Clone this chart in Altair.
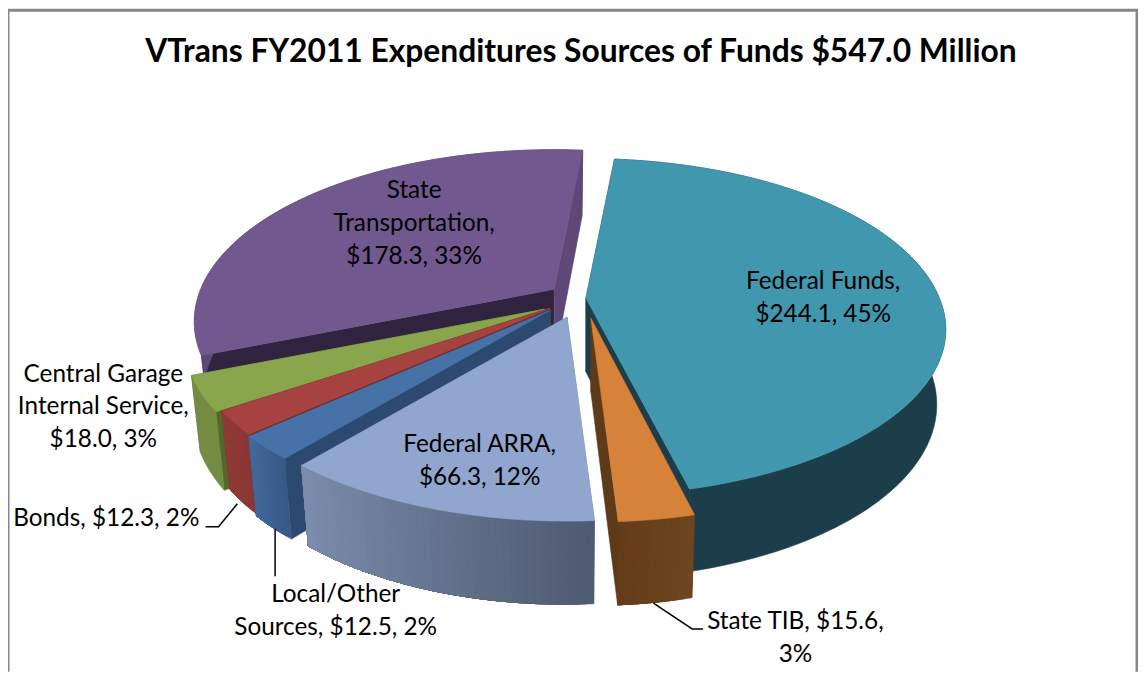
import math
import altair as alt
import pandas as pd

# ---- data ----
sources = ["Federal Funds", "State TIB", "Federal ARRA", "Local/Other Sources",
           "Bonds", "Central Garage Internal Service", "State Transportation"]
amounts = [244.1, 15.6, 66.3, 12.5, 12.3, 18.0, 178.3]
pct_text = ["45%", "3%", "12%", "2%", "2%", "3%", "33%"]
title_text = "VTrans FY2011 Expenditures Sources of Funds $547.0 Million"

label_lines = [
    ["Federal Funds,", "$244.1, 45%"],
    ["State TIB, $15.6,", "3%"],
    ["Federal ARRA,", "$66.3, 12%"],
    ["Local/Other", "Sources, $12.5, 2%"],
    ["Bonds, $12.3, 2%"],
    ["Central Garage", "Internal Service,", "$18.0, 3%"],
    ["State", "Transportation,", "$178.3, 33%"],
]

# ---- style: colours, explosion apexes, label anchors (image pixels) ----
top_col = ["#4097AE", "#D7823B", "#91A6CE", "#4672A7", "#A64340", "#8AA64D", "#71588F"]
wall_a = ["#1C3E4A", "#6E451F", "#4E5A70", "#375884", "#8A3735", "#748C41", "#5D4877"]
wall_b = ["#1C3E4A", "#623C1A", "#7C8DAD", "#42699B", "#8F3A37", "#748C41", "#5D4877"]
cut_start = ["#1C3E4A", "#5E3B18", "#6E7D99", "#2C4A70", "#6E2A28", "#52692B", "#30233F"]
cut_end = ["#1C3E4A", "#5E3B18", "#6E7D99", "#2C4A70", "#6E2A28", "#52692B", "#5D4877"]
apex = [(590, 298), (595, 318), (571, 317), (554, 310), (554, 308), (548, 309), (558, 289)]
front_sq = [0.97, 1.0, 1.0, 1.0, 1.0, 1.0, 1.0]
label_xy = [(829, 282), (801, 624), (483, 446), (338, 597), (107, 520), (104, 375), (417, 190)]
LINE_H = 33
FONT = "Lato"
FS = 24.5

ROT = 5.5
A, B, K = 356.0, 167.0, 0.187
H, SHRINK = 74.0, 0.975


def proj(theta, sq=1.0):
    t = math.radians(theta)
    X, Y = math.sin(t), math.cos(t)
    w = 1 + K * Y
    sy = -B * Y / w
    return A * X / w, sy * sq if sy > 0 else sy, w


def mix(c1, c2, f):
    a = [int(c1[i:i + 2], 16) for i in (1, 3, 5)]
    b = [int(c2[i:i + 2], 16) for i in (1, 3, 5)]
    return "#%02x%02x%02x" % tuple(round(p + (q - p) * f) for p, q in zip(a, b))


features = []


def add(poly, col):
    ring = [[round(x, 2), round(y, 2)] for x, y in poly]
    ring.append(ring[0])
    features.append({"type": "Feature",
                     "geometry": {"type": "Polygon", "coordinates": [ring]},
                     "properties": {"color": col}})


def top_pt(i, th):
    sx, sy, _ = proj(th, front_sq[i])
    return apex[i][0] + sx, apex[i][1] + sy


def bot_pt(i, th):
    sx, sy, w = proj(th, front_sq[i])
    return apex[i][0] + SHRINK * sx, apex[i][1] + sy + H / w ** 0.6


total = sum(amounts)
bounds = [ROT]
for v in amounts:
    bounds.append(bounds[-1] + 360 * v / total)

for i in [6, 0, 5, 4, 3, 1, 2]:
    a0, a1 = bounds[i], bounds[i + 1]
    ax, ay = apex[i]
    n = max(2, int((a1 - a0) / 1.0))
    ths = [a0 + (a1 - a0) * k / n for k in range(n + 1)]
    add([(ax, ay), top_pt(i, a0), bot_pt(i, a0), (ax, ay + H)], cut_start[i])
    add([(ax, ay), top_pt(i, a1), bot_pt(i, a1), (ax, ay + H)], cut_end[i])
    # each wall band runs to the far end of the slice, so neighbours overlap without seams
    m = 1 if wall_a[i] == wall_b[i] else n
    for k in range(m):
        c = mix(wall_a[i], wall_b[i], (k + 0.5) / m)
        rest = ths[k:]
        add([top_pt(i, t) for t in rest] + [bot_pt(i, t) for t in reversed(rest)], c)
    add([(ax, ay)] + [top_pt(i, t) for t in ths], top_col[i])

pie_data = alt.InlineData(values={"type": "FeatureCollection", "features": features},
                          format=alt.DataFormat(property="features", type="json"))

OX, OY = 8, 8
pie = alt.Chart(pie_data).mark_geoshape(strokeWidth=0.6).encode(
    fill=alt.Fill("properties.color:N", scale=None),
    stroke=alt.Stroke("properties.color:N", scale=None),
).project(type="identity", scale=1, translate=[-OX, -OY])

text_rows = []
for lines, (x, y) in zip(label_lines, label_xy):
    for j, s in enumerate(lines):
        text_rows.append({"t": s, "x": x - OX, "y": y + j * LINE_H - OY})
labels = alt.Chart(pd.DataFrame(text_rows)).mark_text(
    font=FONT, fontSize=FS, color="#000000", align="center", baseline="middle"
).encode(x=alt.X("x:Q", scale=None), y=alt.Y("y:Q", scale=None), text="t:N")

title = alt.Chart(pd.DataFrame([{"t": title_text, "x": 585 - OX, "y": 50 - OY}])).mark_text(
    font=FONT, fontSize=32, fontWeight="bold", color="#000000", align="center", baseline="middle"
).encode(x=alt.X("x:Q", scale=None), y=alt.Y("y:Q", scale=None), text="t:N")

leaders = pd.DataFrame(
    [{"g": "b", "o": n, "x": x - OX, "y": y - OY} for n, (x, y) in enumerate([(207, 528), (220, 528), (239, 505)])]
    + [{"g": "l", "o": n, "x": x - OX, "y": y - OY} for n, (x, y) in enumerate([(277, 530), (277, 578)])]
    + [{"g": "t", "o": n, "x": x - OX, "y": y - OY} for n, (x, y) in enumerate([(658, 605), (697, 631), (708, 631)])]
)
leader = alt.Chart(leaders).mark_line(color="#000000", strokeWidth=1.5).encode(
    x=alt.X("x:Q", scale=None), y=alt.Y("y:Q", scale=None), detail="g:N", order="o:Q")

frame = pd.DataFrame([{"g": "f", "o": n, "x": x, "y": y}
                      for n, (x, y) in enumerate([(0, 666), (0, 0), (1137, 0), (1137, 666)])])
border = alt.Chart(frame).mark_line(color="#868686", strokeWidth=3).encode(
    x=alt.X("x:Q", scale=None), y=alt.Y("y:Q", scale=None), detail="g:N", order="o:Q")

chart = alt.layer(border, pie, leader, labels, title).properties(
    width=1138, height=666, padding=0, autosize=alt.AutoSizeParams(type="none"),
    background="#ffffff",
).configure_view(stroke=None)

chart.save("out.html", embed_options={"renderer": "svg", "actions": False})
